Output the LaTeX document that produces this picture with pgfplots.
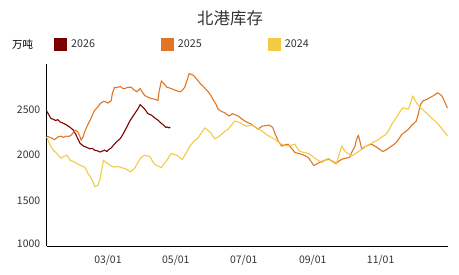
\documentclass[border=0pt]{standalone}
\usepackage{pgfplots}
\pgfplotsset{compat=1.18}
\usepackage{fontspec}
\setmainfont{Noto Sans CJK SC}
\definecolor{c26}{RGB}{122,0,0}
\definecolor{c25}{RGB}{224,118,36}
\definecolor{c24}{RGB}{244,202,68}
\definecolor{txt}{RGB}{51,51,51}
\begin{document}
\begin{tikzpicture}
\begin{axis}[
  scale only axis, width=401.3bp, height=182.4bp,
  xmin=4, xmax=364.5, ymin=1000, ymax=3000,
  axis x line=bottom, axis y line=left,
  axis line style={-, black, line width=0.9pt},
  major tick length=0pt,
  xtick={59,120,181,243,304},
  xticklabels={03/01,05/01,07/01,09/01,11/01},
  ytick={1000,1500,2000,2500},
  yticklabels={\raisebox{6bp}{1000},1500,2000,2500},
  tick label style={font=\fontsize{10.5}{12}\selectfont, text=txt},
  /pgf/number format/assume math mode=true,
  xticklabel style={yshift=-5bp},
  yticklabel style={xshift=-3bp},
  clip=false,
  legend columns=-1,
  legend style={at={(axis description cs:0.018,1.107)}, anchor=west, draw=none, fill=none,
    font=\fontsize{10.8}{12}\selectfont, text=txt, inner sep=0pt,
    /tikz/every odd column/.append style={column sep=2bp},
    /tikz/every even column/.append style={column sep=64bp}},
  legend image code/.code={\fill[#1,draw=none] (0bp,-6.5bp) rectangle (13bp,6.5bp);},
  every axis plot/.append style={line width=1.1pt, line join=round},
]
\addplot[c26] coordinates {
(4,2485)(6,2440)(8,2400)(10,2395)(12,2380)(14,2390)(16,2365)(19,2350)(22,2330)(25,2305)(28,2275)(30,2230)(32,2180)(34,2130)(37,2100)(40,2085)(43,2070)(45,2075)(47,2055)(49,2050)(52,2035)(54,2045)(56,2055)(58,2040)(59,2055)(62,2080)(64,2110)(67,2150)(70,2180)(73,2240)(76,2310)(78,2360)(80,2400)(83,2455)(86,2510)(88,2555)(90,2530)(91,2520)(93,2490)(95,2455)(98,2440)(100,2420)(102,2400)(104,2385)(106,2360)(109,2330)(111,2305)(112,2310)(114,2300)(115,2310)
};
\addlegendentry{2026}
\addplot[c25] coordinates {
(4,2210)(7,2195)(9,2185)(11,2170)(14,2200)(17,2210)(19,2195)(22,2210)(24,2205)(26,2220)(28,2250)(30,2275)(32,2255)(34,2200)(35,2165)(37,2210)(38,2255)(40,2310)(43,2385)(45,2440)(47,2490)(50,2530)(52,2565)(55,2590)(57,2585)(59,2570)(62,2600)(63,2680)(65,2745)(67,2740)(70,2755)(72,2735)(74,2730)(77,2745)(80,2745)(82,2720)(85,2695)(88,2730)(90,2690)(92,2655)(95,2635)(98,2620)(101,2615)(104,2600)(105,2700)(107,2815)(110,2775)(112,2745)(115,2735)(118,2720)(121,2705)(124,2695)(126,2715)(128,2745)(130,2820)(132,2895)(134,2885)(136,2875)(139,2830)(142,2785)(145,2750)(148,2710)(151,2665)(153,2620)(156,2560)(158,2505)(161,2480)(164,2465)(166,2445)(168,2430)(171,2455)(173,2445)(176,2430)(179,2400)(182,2375)(185,2355)(188,2340)(191,2310)(194,2285)(196,2305)(198,2320)(201,2325)(204,2330)(207,2305)(209,2240)(212,2155)(215,2100)(218,2115)(221,2120)(224,2075)(227,2030)(230,2020)(233,2010)(236,1995)(239,1975)(241,1940)(244,1885)(246,1900)(249,1920)(252,1935)(254,1945)(257,1955)(260,1940)(264,1910)(266,1930)(269,1955)(272,1965)(276,1975)(278,2030)(281,2100)(282,2160)(284,2220)(286,2120)(287,2065)(289,2085)(291,2100)(294,2115)(296,2120)(298,2105)(300,2090)(303,2065)(306,2040)(309,2060)(312,2085)(315,2110)(318,2140)(321,2190)(323,2230)(326,2255)(329,2285)(332,2330)(336,2375)(338,2460)(339,2520)(340,2560)(342,2595)(344,2605)(346,2615)(348,2630)(351,2650)(353,2665)(355,2685)(357,2670)(359,2650)(361,2600)(364,2515)
};
\addlegendentry{2025}
\addplot[c24] coordinates {
(4,2200)(6,2140)(8,2090)(10,2055)(13,2020)(15,1990)(17,1965)(19,1985)(22,2000)(24,1970)(25,1945)(27,1935)(29,1925)(31,1910)(34,1890)(36,1880)(38,1870)(40,1830)(41,1800)(43,1770)(44,1745)(46,1700)(47,1655)(49,1665)(50,1670)(52,1740)(53,1815)(54,1880)(55,1945)(57,1925)(59,1910)(61,1890)(64,1870)(67,1875)(70,1870)(72,1860)(74,1855)(77,1835)(79,1815)(81,1835)(83,1855)(85,1900)(88,1965)(90,1985)(92,2000)(95,1990)(97,1980)(99,1935)(101,1900)(104,1880)(107,1865)(109,1900)(112,1945)(114,1985)(116,2020)(118,2010)(121,2000)(123,1980)(126,1955)(129,2020)(133,2105)(136,2150)(140,2190)(143,2245)(146,2300)(148,2280)(151,2250)(153,2215)(155,2180)(158,2200)(161,2230)(164,2260)(167,2285)(170,2330)(173,2375)(175,2370)(177,2360)(180,2340)(183,2320)(186,2325)(189,2330)(192,2305)(195,2285)(198,2260)(201,2230)(205,2200)(209,2175)(212,2145)(215,2120)(218,2110)(221,2100)(224,2110)(227,2120)(229,2080)(231,2045)(235,2030)(239,2020)(242,1995)(244,1975)(247,1950)(251,1920)(254,1945)(257,1965)(260,1935)(264,1900)(266,1980)(268,2060)(269,2100)(271,2060)(273,2030)(276,2010)(278,1990)(281,2015)(284,2040)(286,2060)(288,2085)(291,2100)(294,2120)(297,2140)(300,2155)(303,2180)(305,2200)(307,2215)(309,2230)(312,2290)(314,2340)(317,2395)(320,2450)(322,2490)(324,2520)(327,2510)(329,2505)(331,2580)(333,2650)(335,2600)(337,2560)(340,2520)(343,2485)(347,2440)(351,2395)(355,2350)(358,2305)(361,2260)(364,2210)
};
\addlegendentry{2024}
\node[anchor=center, font=\fontsize{10.5}{12}\selectfont, text=black] at (axis description cs:-0.06,1.107) {万吨};
\node[anchor=center, font=\fontsize{16.5}{18}\selectfont, text=txt] at (axis description cs:0.457,1.252) {北港库存};
\end{axis}
\pgfresetboundingbox
\path (-46.7bp,-28.6bp) rectangle (412.3bp,246.4bp);
\end{tikzpicture}
\end{document}
